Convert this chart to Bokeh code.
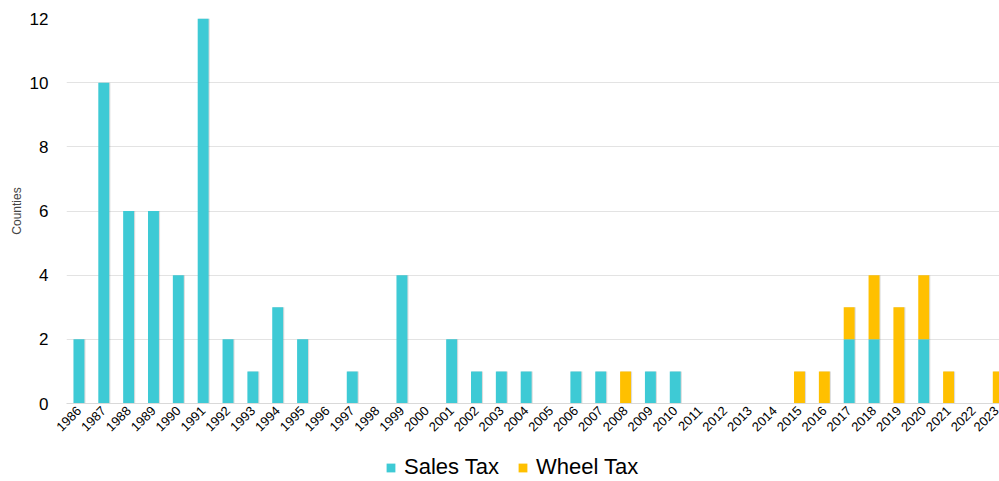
import math
from bokeh.plotting import figure
from bokeh.layouts import column
from bokeh.models import ColumnDataSource, FixedTicker, Legend, LegendItem, Range1d
from bokeh.embed import file_html
from bokeh.resources import INLINE

years = list(range(1986, 2024))
sales_tax = [2, 10, 6, 6, 4, 12, 2, 1, 3, 2, 0, 1, 0, 4, 0, 2, 1, 1, 1, 0,
             1, 1, 0, 1, 1, 0, 0, 0, 0, 0, 0, 2, 2, 0, 2, 0, 0, 0]
wheel_tax = [0, 0, 0, 0, 0, 0, 0, 0, 0, 0, 0, 0, 0, 0, 0, 0, 0, 0, 0, 0,
             0, 0, 1, 0, 0, 0, 0, 0, 0, 1, 1, 1, 2, 3, 2, 1, 0, 1]
y_ticks = [0, 2, 4, 6, 8, 10, 12]
series_names = ["Sales Tax", "Wheel Tax"]

SALES = "#3ECAD5"
WHEEL = "#FFC000"
FONT = "Liberation Sans"

totals = [s + w for s, w in zip(sales_tax, wheel_tax)]
src = ColumnDataSource(dict(year=years, sales=sales_tax, wheel=wheel_tax,
                            total=totals,
                            shadow_x=[y + 0.04 for y in years]))

p = figure(width=999, height=452, output_backend="svg", toolbar_location=None,
           x_range=Range1d(1985.5, 2023.05), y_range=Range1d(0, 12),
           min_border_left=66, min_border_right=0, min_border_top=18,
           min_border_bottom=49)
p.outline_line_color = None
p.background_fill_color = "white"

# soft drop shadow behind each stacked column
p.vbar(x="shadow_x", top="total", bottom=-0.06, width=0.45, source=src,
       fill_color="#808080", fill_alpha=0.28, line_color=None)

p.vbar_stack(["sales", "wheel"], x="year", width=0.44,
             color=[SALES, WHEEL], source=src, line_color=None)

p.xaxis.ticker = FixedTicker(ticks=years)
p.xaxis.major_label_overrides = {y: str(y) for y in years}
p.xaxis.major_label_orientation = math.pi / 4
p.xaxis.major_label_text_font = FONT
p.xaxis.major_label_text_font_size = "13px"
p.xaxis.major_label_text_color = "#000000"
p.xaxis.major_tick_line_color = None
p.xaxis.major_tick_out = 0
p.xaxis.minor_tick_line_color = None
p.xaxis.axis_line_color = "#D9D9D9"
p.xaxis.major_label_standoff = 5

p.yaxis.ticker = FixedTicker(ticks=y_ticks)
p.yaxis.major_label_text_font = FONT
p.yaxis.major_label_text_font_size = "17px"
p.yaxis.major_label_text_color = "#000000"
p.yaxis.major_tick_line_color = None
p.yaxis.major_tick_out = 0
p.yaxis.minor_tick_line_color = None
p.yaxis.axis_line_color = None
p.yaxis.major_label_standoff = 18
p.yaxis.axis_label = "Counties"
p.yaxis.axis_label_text_font = FONT
p.yaxis.axis_label_text_font_size = "12px"
p.yaxis.axis_label_text_font_style = "normal"
p.yaxis.axis_label_standoff = 3

p.xgrid.grid_line_color = None
p.ygrid.grid_line_color = "#E3E3E3"

# legend strip under the chart
lg = figure(width=999, height=29, output_backend="svg", toolbar_location=None,
            x_range=Range1d(0, 1), y_range=Range1d(0, 1),
            x_axis_type=None, y_axis_type=None,
            min_border_left=0, min_border_right=0, min_border_top=0,
            min_border_bottom=0)
lg.grid.visible = False
lg.outline_line_color = None
# swatch renderers hold one point placed outside the visible range
swatches = [lg.vbar(x=[-5], top=[-5], width=1, color=c, line_color=None)
            for c in (SALES, WHEEL)]

legend = Legend(items=[LegendItem(label=n, renderers=[r])
                       for n, r in zip(series_names, swatches)],
                orientation="horizontal", location=(319, 1),
                label_text_font=FONT, label_text_font_size="22px",
                label_text_color="#000000",
                label_standoff=8, glyph_width=11, glyph_height=11, spacing=18,
                border_line_color=None, background_fill_alpha=0,
                margin=0, padding=0)
lg.add_layout(legend, "center")

layout = column(p, lg, spacing=0)
open("out.html", "w").write(file_html(layout, INLINE))
